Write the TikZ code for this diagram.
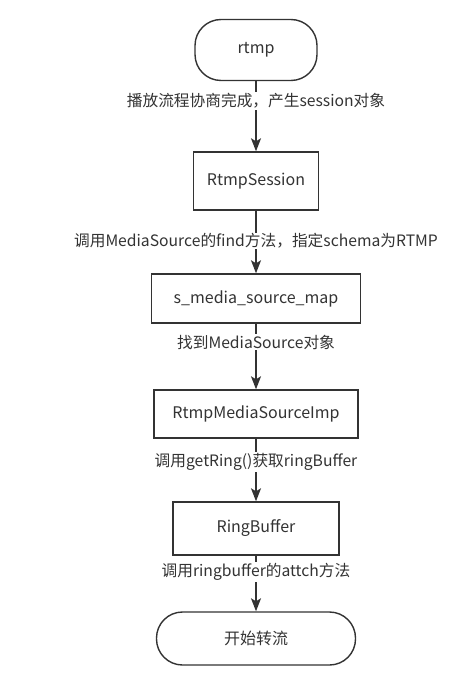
\documentclass[tikz,border=0pt]{standalone}
\usepackage{fontspec}
\setmainfont{Noto Sans CJK SC}
\usetikzlibrary{arrows.meta}
\definecolor{ln}{HTML}{333333}
\begin{document}
\begin{tikzpicture}[x=1pt,y=-1pt,
  box/.style={draw=ln, line width=1.4pt, fill=white, minimum width=#1, inner sep=0pt, font=\fontsize{16}{19}\selectfont, text=ln},
  term/.style={box=#1, rounded corners=26pt},
  arr/.style={draw=ln, line width=1.4pt, -{Stealth[length=13pt,width=10pt,inset=3pt]}},
  lbl/.style={fill=white, inner sep=1pt, font=\fontsize{15.7}{18}\selectfont, text=ln}]
\useasboundingbox (0,0) rectangle (470,679);
\node[term=122pt, minimum height=61pt] (rtmp) at (256,50) {rtmp};
\node[box=125pt, minimum height=58pt] (sess) at (256,181) {RtmpSession};
\node[box=209pt, minimum height=49pt] (map) at (256,298.5) {s\_media\_source\_map};
\node[box=204pt, minimum height=48pt] (imp) at (256,414) {RtmpMediaSourceImp};
\node[box=166pt, minimum height=53pt] (ring) at (256,528.5) {RingBuffer};
\node[term=199pt, minimum height=53pt] (start) at (256,638.5) {开始转流};
\draw[arr] (rtmp) -- (sess);
\draw[arr] (sess) -- (map);
\draw[arr] (map) -- (imp);
\draw[arr] (imp) -- (ring);
\draw[arr] (ring) -- (start);
\node[lbl] (l1) at (256,101) {播放流程协商完成，产生session对象};
\node[lbl] (l2) at (256,241) {调用MediaSource的find方法，指定schema为RTMP};
\node[lbl] (l3) at (256,342) {找到MediaSource对象};
\node[lbl] (l4) at (256,462) {调用getRing()获取ringBuffer};
\node[lbl] (l5) at (256,572) {调用ringbuffer的attch方法};
\end{tikzpicture}
\end{document}
